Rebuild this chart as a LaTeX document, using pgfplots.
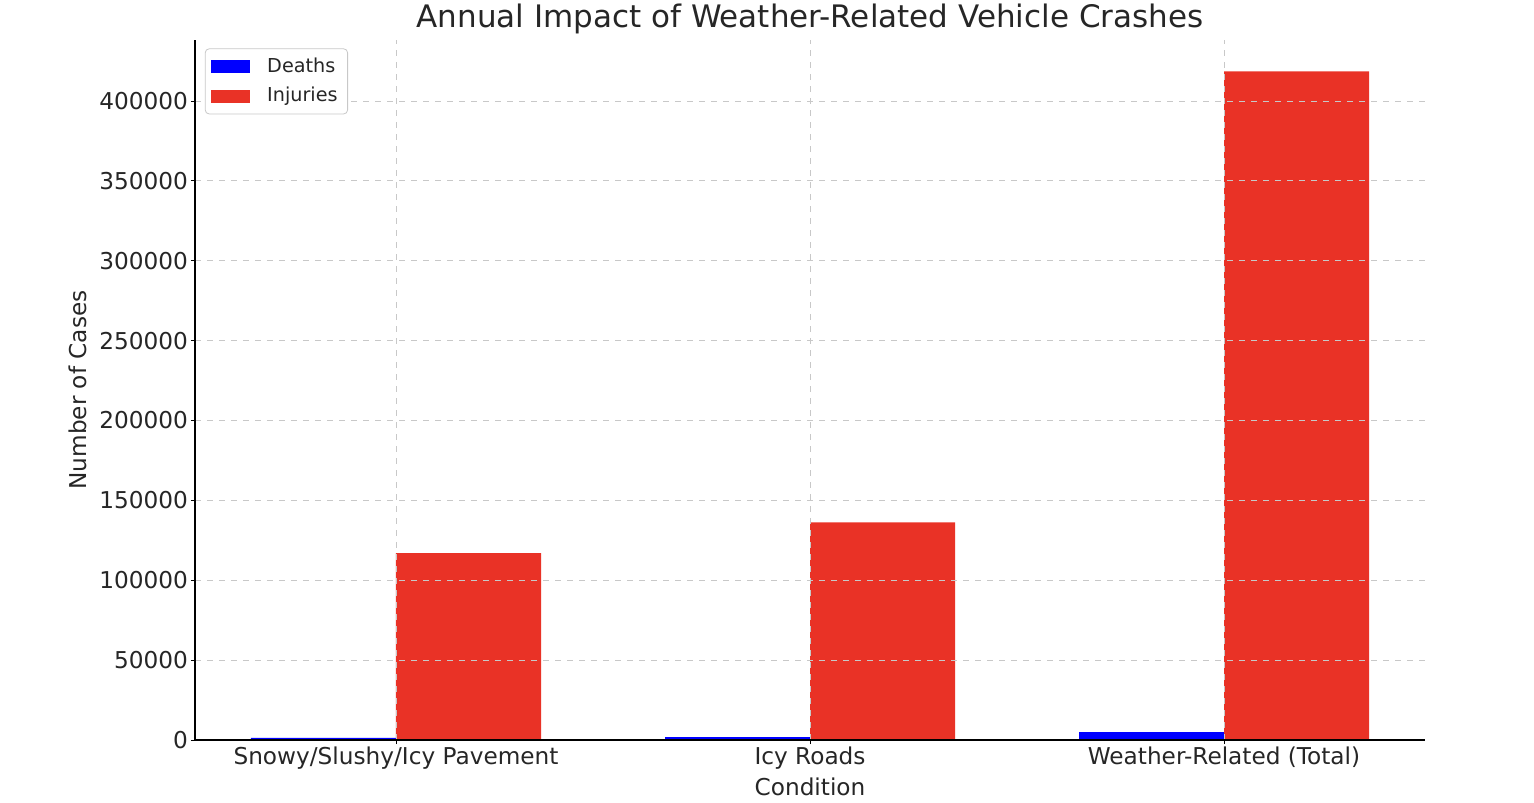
\documentclass[border=0pt]{standalone}
\usepackage{pgfplots}
\pgfplotsset{compat=1.18}
\usepackage{fontspec}
\setmainfont{DejaVu Sans}
\definecolor{dblue}{RGB}{0,0,255}
\definecolor{dred}{RGB}{233,50,38}
\definecolor{txt}{RGB}{38,38,38}
\definecolor{gridc}{RGB}{200,200,200}
\begin{document}
\begin{tikzpicture}
\useasboundingbox (-97.5pt,-31pt) rectangle (669.5pt,370pt);
\begin{axis}[
  at={(0,0)}, anchor=south west,
  scale only axis,
  width=615pt, height=350pt,
  xmin=-0.4855, xmax=2.4855,
  ymin=0, ymax=438200,
  xtick={0,1,2},
  xticklabels={Snowy/Slushy/Icy Pavement, Icy Roads, Weather-Related (Total)},
  ytick={0,50000,100000,150000,200000,250000,300000,350000,400000},
  scaled y ticks=false,
  /pgf/number format/fixed,
  /pgf/number format/precision=0,
  /pgf/number format/1000 sep={},
  /pgf/number format/assume math mode=true,
  ticklabel style={font=\fontsize{11.6}{13}\selectfont, text=txt},
  xticklabel style={yshift=2pt},
  yticklabel style={xshift=2pt},
  tick style={black, thin},
  tick align=outside,
  major tick length=2pt,
  xtick pos=bottom, ytick pos=left,
  axis x line*=bottom, axis y line*=left,
  axis line style={black, line width=0.6pt},
  grid=major,
  major grid style={gridc, dashed, line width=0.4pt},
  axis on top,
  xlabel={Condition},
  ylabel={Number of Cases},
  label style={font=\fontsize{11.6}{13}\selectfont, text=txt},
  xlabel style={yshift=2.5pt},
  ylabel style={yshift=-0.5pt},
  title={Annual Impact of Weather-Related Vehicle Crashes},
  title style={font=\fontsize{15.5}{17}\selectfont, text=txt, yshift=-6.5pt},
  bar width=72.5pt,
  legend style={at={(0.008,0.988)}, anchor=north west, font=\fontsize{9.6}{11}\selectfont, text=txt,
    draw=gridc, rounded corners=2pt, inner xsep=3pt, inner ysep=2.5pt, row sep=2pt},
  legend cell align=left,
  legend image code/.code={\fill[#1, sharp corners] (0pt,-3.2pt) rectangle (19.5pt,3.2pt); \path[draw=none, fill=none] (0pt,-0.1pt) rectangle (26pt,0.1pt);},
]
\addplot[ybar, fill=dblue, draw=none, bar shift=-36.25pt] coordinates {(0,1300) (1,1800) (2,5000)};
\addlegendentry{Deaths}
\addplot[ybar, fill=dred, draw=none, bar shift=36.25pt] coordinates {(0,117000) (1,136300) (2,418500)};
\addlegendentry{Injuries}
\end{axis}
\end{tikzpicture}
\end{document}
